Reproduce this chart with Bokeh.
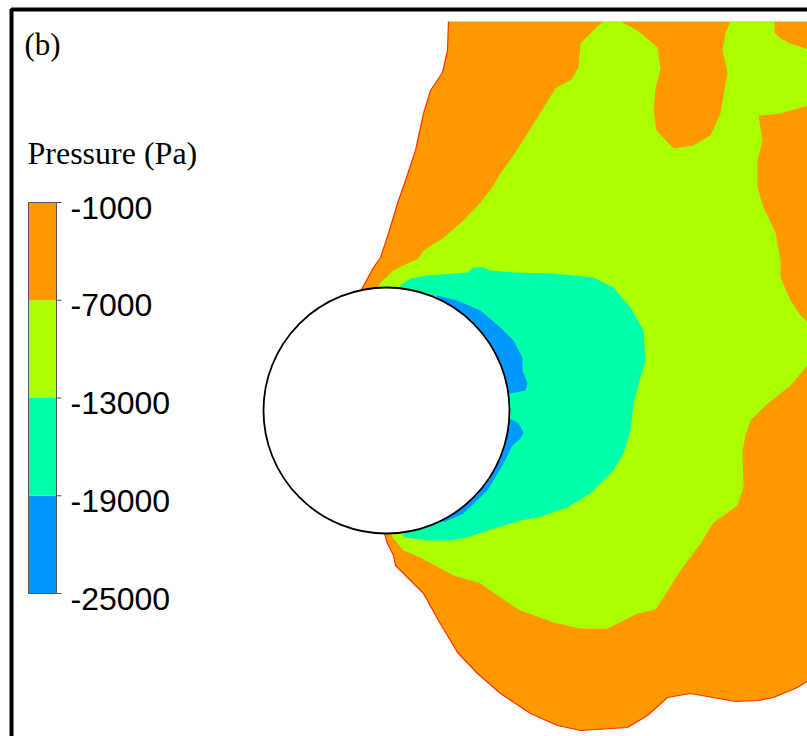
from bokeh.plotting import figure
from bokeh.models import Range1d, BoxAnnotation
from bokeh.core.properties import value
from bokeh.embed import file_html
from bokeh.resources import INLINE

# Pressure band edges (Pa) and the colour of each band (low -> high)
levels = [-25000, -19000, -13000, -7000, -1000]
level_labels = ["-25000", "-19000", "-13000", "-7000", "-1000"]
band_colors = ["#0099FF", "#00FFAA", "#AAFF00", "#FF9900"]

# Cylinder centre and radius (mm)
cyl_x = [0]
cyl_y = [0]
cyl_r = 123

# Outer edge of the -7000..-1000 Pa band: upstream side, top to cylinder
orange_left_x = [62, 61, 56, 44, 37, 29, 19, 11, 2, -6, -13, -24, -26]
orange_left_y = [389, 360, 338, 320, 297, 260, 230, 207, 177, 153, 143, 123, 119]
# ... and lower side, cylinder to the right edge
orange_bottom_x = [-2, 1, 7, 9, 24, 37, 52, 71, 91, 114, 144, 171, 194, 241, 261,
                   281, 304, 349, 371, 387, 411, 425]
orange_bottom_y = [-123, -133, -145, -155, -170, -183, -210, -242, -263, -283, -303,
                   -315, -320, -317, -305, -287, -283, -291, -290, -287, -277, -268]

# -13000..-7000 Pa band boundary
green_x = [0, -10, -6, 7, 21, 32, 37, 56, 77, 94, 107, 114, 127, 141, 154, 169, 185,
           192, 194, 212, 217, 234, 251, 271, 274, 269, 267, 270, 287, 307, 324, 334,
           341, 336, 339, 344, 388, 388, 394, 404, 425, 425, 394, 372, 376, 371, 371,
           377, 389, 394, 394, 404, 414, 425, 425, 404, 379, 364, 359, 356, 357, 351,
           327, 314, 294, 277, 269, 251, 221, 194, 167, 134, 114, 94, 67, 34, 17, 7, 4]
green_y = [0, 121, 128, 140, 147, 152, 160, 172, 190, 208, 225, 237, 255, 277, 298,
           322, 331, 343, 367, 385, 389, 389, 380, 363, 342, 322, 300, 280, 262, 265,
           275, 297, 338, 360, 377, 389, 389, 378, 372, 367, 360, 306, 297, 295, 270,
           250, 223, 203, 178, 150, 133, 110, 95, 85, 50, 25, 5, -10, -25, -40, -77,
           -95, -112, -133, -160, -187, -199, -203, -218, -218, -212, -200, -187, -173,
           -165, -147, -140, -128, -123]

# -19000..-13000 Pa band boundary
cyan_x = [0, 14, 24, 41, 81, 87, 97, 104, 127, 167, 207, 227, 244, 257, 259, 254,
          247, 244, 237, 227, 204, 181, 151, 134, 101, 81, 64, 41, 27, 17]
cyan_y = [0, 125, 132, 135, 138, 143, 143, 140, 138, 137, 133, 123, 103, 80, 50, 33,
          7, -20, -43, -60, -83, -97, -107, -110, -120, -127, -130, -130, -128, -127]

# -25000..-19000 Pa pockets on the downstream face
blue_upper_x = [0, 51, 71, 94, 114, 127, 136, 136, 141, 139, 124]
blue_upper_y = [0, 115, 110, 100, 83, 70, 53, 40, 27, 20, 17]
blue_lower_x = [0, 122, 132, 137, 134, 126, 117, 101, 77, 57]
blue_lower_y = [0, -7, -13, -22, -28, -35, -53, -80, -103, -112]

p = figure(width=807, height=736, output_backend="svg", toolbar_location=None,
           x_range=Range1d(-386, 421), y_range=Range1d(-326, 410),
           x_axis_type=None, y_axis_type=None, min_border=0,
           outline_line_color=None, background_fill_color="white")
p.grid.visible = False

# Filled pressure bands, outermost first
orange_x = orange_left_x + [0] + orange_bottom_x + [425, 425]
orange_y = orange_left_y + [0] + orange_bottom_y + [-268, 389]
p.patch(orange_x, orange_y, fill_color=band_colors[3], line_color=None)
p.patch(green_x, green_y, fill_color=band_colors[2], line_color=None)
p.patch(cyan_x, cyan_y, fill_color=band_colors[1], line_color=None)
p.patch(blue_upper_x, blue_upper_y, fill_color=band_colors[0], line_color=None)
p.patch(blue_lower_x, blue_lower_y, fill_color=band_colors[0], line_color=None)

# Outer contour edge
p.line(orange_left_x, orange_left_y, line_color="#FF3300", line_width=1.2)
p.line(orange_bottom_x, orange_bottom_y, line_color="#FF3300", line_width=1.2)

# Cylinder
p.circle(cyl_x, cyl_y, radius=cyl_r, fill_color="white", line_color="black",
         line_width=1.8)

# Colour bar
bar_left, bar_right, bar_bottom, bar_top = -358, -330, -183, 208
span = levels[-1] - levels[0]
level_y = [bar_bottom + (lv - levels[0]) / span * (bar_top - bar_bottom) for lv in levels]
p.quad(left=[bar_left] * 4, right=[bar_right] * 4, bottom=level_y[:-1],
       top=level_y[1:], fill_color=band_colors, line_color=None)
p.quad(left=[bar_left], right=[bar_right], bottom=[bar_bottom], top=[bar_top],
       fill_color=None, line_color="#555555", line_width=1)
p.segment(x0=[bar_right] * 5, x1=[bar_right + 5] * 5, y0=level_y, y1=level_y,
          line_color="#555555", line_width=1)
p.text(x=[bar_right + 14] * 5, y=[v - 5 for v in level_y], text=level_labels,
       text_font=value("Liberation Sans"), text_font_size="32px",
       text_baseline="middle", text_align="left", text_color="black")
p.text(x=[-359], y=[258], text=["Pressure (Pa)"], text_font=value("Liberation Serif"),
       text_font_size="32px", text_baseline="middle", text_color="black")
p.text(x=[-362], y=[366], text=["(b)"], text_font=value("Liberation Serif"),
       text_font_size="31px", text_baseline="middle", text_color="black")

# Panel frame
p.add_layout(BoxAnnotation(left=-375, top=401, right=1000, bottom=-1000,
                           fill_alpha=0, line_color="black", line_alpha=1,
                           line_width=4))

open("out.html", "w").write(file_html(p, INLINE))
